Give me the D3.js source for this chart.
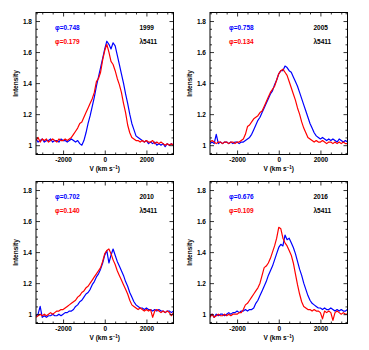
<!DOCTYPE html>
<html><head><meta charset="utf-8">
<script src="https://cdn.jsdelivr.net/npm/d3@7"></script>
<style>
html,body{margin:0;padding:0;background:#fff;}
svg text{font-family:"Liberation Sans",Arial,sans-serif;}
</style></head>
<body>
<svg id="c" width="369" height="350"></svg>
<script>
const velocity = [-3300,-3200,-3100,-3000,-2900,-2800,-2700,-2600,-2500,-2400,
-2300,-2200,-2100,-2000,-1900,-1800,-1700,-1600,-1500,-1400,
-1300,-1200,-1100,-1000,-900,-800,-700,-600,-500,-400,
-300,-200,-100,0,100,200,300,400,500,600,
700,800,900,1000,1100,1200,1300,1400,1500,1600,
1700,1800,1900,2000,2100,2200,2300,2400,2500,2600,
2700,2800,2900,3000,3100,3200,3300];

const red1999 = [1.03,1.05,1.02,1.04,1.03,1.04,1.02,1.03,1.04,1.03,
1.02,1.04,1.03,1.03,1.04,1.03,1.04,1.05,1.07,1.09,
1.11,1.14,1.15,1.18,1.21,1.24,1.27,1.30,1.34,1.41,
1.43,1.47,1.55,1.61,1.65,1.60,1.54,1.52,1.48,1.43,
1.39,1.34,1.27,1.21,1.13,1.08,1.05,1.04,1.03,1.03,
1.02,1.03,1.02,1.03,1.02,1.02,1.03,1.01,1.02,1.01,
1.02,1.01,1.00,1.01,1.00,1.01,1.00];
const blue1999 = [1.04,1.02,1.03,1.04,1.02,1.03,1.03,1.04,1.02,1.03,
1.03,1.02,1.04,1.03,1.03,1.02,1.03,1.04,1.03,1.02,
1.03,1.01,1.00,1.03,1.08,1.14,1.19,1.25,1.31,1.38,
1.44,1.50,1.56,1.62,1.67,1.65,1.62,1.66,1.64,1.58,
1.52,1.46,1.40,1.33,1.27,1.20,1.14,1.10,1.06,1.05,
1.04,1.03,1.02,1.03,1.01,1.02,1.01,1.02,1.00,1.01,
1.00,1.01,0.99,1.01,1.00,1.01,1.00];

const red2005 = [1.02,1.03,1.02,1.01,1.02,1.02,1.01,1.02,1.02,1.01,
1.02,1.02,1.01,1.02,1.02,1.03,1.04,1.07,1.12,1.13,
1.15,1.17,1.18,1.19,1.21,1.22,1.25,1.28,1.31,1.34,
1.36,1.38,1.42,1.46,1.48,1.49,1.47,1.45,1.41,1.37,
1.33,1.29,1.24,1.20,1.15,1.11,1.08,1.05,1.04,1.03,
1.02,1.03,1.02,1.02,1.03,1.02,1.01,1.02,1.02,1.01,
1.02,1.01,1.02,1.01,1.02,1.01,1.01];
const blue2005 = [1.01,1.02,1.01,1.07,1.01,1.02,1.01,1.02,1.02,1.01,
1.02,1.01,1.02,1.02,1.01,1.02,1.02,1.03,1.04,1.05,
1.07,1.10,1.13,1.16,1.18,1.21,1.24,1.27,1.30,1.33,
1.35,1.39,1.42,1.46,1.48,1.48,1.51,1.50,1.48,1.47,
1.44,1.41,1.38,1.34,1.30,1.26,1.22,1.18,1.14,1.11,
1.08,1.06,1.05,1.04,1.05,1.04,1.03,1.04,1.03,1.04,
1.03,1.02,1.04,1.03,1.02,1.03,1.02];

const red2010 = [0.98,0.99,1.00,0.99,1.00,0.99,1.00,1.01,1.00,1.01,
1.02,1.02,1.03,1.03,1.04,1.05,1.06,1.07,1.08,1.09,
1.11,1.12,1.14,1.15,1.17,1.18,1.20,1.22,1.24,1.26,
1.28,1.30,1.34,1.39,1.41,1.42,1.39,1.35,1.32,1.28,
1.25,1.22,1.19,1.16,1.13,1.09,1.06,1.05,1.04,1.03,
1.04,1.03,1.02,1.03,1.02,1.03,0.98,1.02,1.03,1.02,
1.01,1.02,1.01,1.02,1.01,0.99,1.01];
const blue2010 = [0.99,1.00,1.05,0.98,0.99,0.98,0.99,0.99,1.00,0.99,
0.99,1.00,0.99,1.00,1.01,1.01,1.02,1.02,1.03,1.05,
1.06,1.08,1.09,1.11,1.13,1.14,1.16,1.19,1.21,1.24,
1.26,1.29,1.33,1.38,1.41,1.33,1.38,1.42,1.38,1.34,
1.31,1.28,1.25,1.21,1.18,1.14,1.11,1.08,1.06,1.05,
1.04,1.04,1.03,1.04,1.03,1.03,1.02,1.03,1.02,1.03,
1.02,1.02,1.01,1.02,1.02,1.01,1.02];

const red2016 = [0.98,1.00,0.98,0.99,1.00,0.99,0.99,1.00,0.99,1.00,
0.99,1.00,1.00,1.00,1.01,1.01,1.03,1.06,1.07,1.09,
1.11,1.13,1.15,1.17,1.20,1.25,1.30,1.31,1.33,1.36,
1.40,1.44,1.49,1.56,1.55,1.49,1.46,1.44,1.41,1.38,
1.33,1.26,1.19,1.13,1.08,1.05,1.04,1.03,1.03,1.02,
1.03,1.02,1.02,1.01,0.97,1.02,1.01,1.02,1.01,0.96,
1.01,1.02,1.01,1.00,1.01,1.00,1.00];
const blue2016 = [0.99,1.00,0.98,1.00,0.99,1.00,1.00,0.99,1.00,1.01,
1.00,1.01,1.01,1.02,1.01,1.02,1.02,1.03,1.02,1.03,
1.03,1.04,1.07,1.09,1.12,1.15,1.18,1.21,1.25,1.28,
1.31,1.35,1.39,1.43,1.45,1.44,1.51,1.48,1.49,1.46,
1.43,1.39,1.34,1.29,1.25,1.20,1.16,1.12,1.09,1.07,
1.06,1.05,1.04,1.04,1.03,1.04,1.03,1.03,1.04,1.03,
1.02,1.03,1.02,1.03,1.02,1.02,1.03];

const years = ["1999","2005","2010","2016"];
const phiBlue = ["φ=0.748","φ=0.758","φ=0.702","φ=0.676"];
const phiRed = ["φ=0.179","φ=0.134","φ=0.140","φ=0.109"];
const lineLabel = "λ5411";
const xTicks = [-2000,0,2000];
const yTicks = [1,1.2,1.4,1.6,1.8];
const yTickLabels = ["1","1.2","1.4","1.6","1.8"];

const blueSeries = [blue1999,blue2005,blue2010,blue2016];
const redSeries = [red1999,red2005,red2010,red2016];

const svg = d3.select("#c");
const lefts = [36,210], tops = [12.5,181.5];
const W = 137.5, H = 142;
const BLUE = "#0000ff", RED = "#ff0000";
const FS = 6.5;

for (let p = 0; p < 4; p++) {
  const x0 = lefts[p % 2], y0 = tops[Math.floor(p / 2)];
  const g = svg.append("g").attr("transform", `translate(${x0},${y0})`);
  const x = d3.scaleLinear().domain([-3300,3300]).range([0,W]);
  const y = d3.scaleLinear().domain([0.94,1.855]).range([H,0]);

  g.append("defs").append("clipPath").attr("id","clip"+p)
    .append("rect").attr("width",W).attr("height",H);

  const line = d3.line().x((d,i)=>x(velocity[i])).y(d=>y(d));
  const lg = g.append("g").attr("clip-path",`url(#clip${p})`);
  lg.append("path").datum(blueSeries[p]).attr("d",line)
    .attr("fill","none").attr("stroke",BLUE).attr("stroke-width",1.2).attr("stroke-linejoin","round");
  lg.append("path").datum(redSeries[p]).attr("d",line)
    .attr("fill","none").attr("stroke",RED).attr("stroke-width",1.2).attr("stroke-linejoin","round");

  const xMinor = d3.range(-3000,3001,500).filter(v=>!xTicks.includes(v));
  const yMinor = d3.range(0.95,1.851,0.05).filter(v=>!yTicks.some(t=>Math.abs(t-v)<1e-6));

  const axB = d3.axisBottom(x).tickValues(xTicks).tickSize(-4).tickPadding(3).tickFormat(d=>d);
  const axT = d3.axisTop(x).tickValues(xTicks).tickSize(-4).tickFormat("");
  const axL = d3.axisLeft(y).tickValues(yTicks).tickSize(-4).tickPadding(4).tickFormat((d,i)=>yTickLabels[i]);
  const axR = d3.axisRight(y).tickValues(yTicks).tickSize(-4).tickFormat("");
  const axBm = d3.axisBottom(x).tickValues(xMinor).tickSize(-2).tickFormat("");
  const axTm = d3.axisTop(x).tickValues(xMinor).tickSize(-2).tickFormat("");
  const axLm = d3.axisLeft(y).tickValues(yMinor).tickSize(-2).tickFormat("");
  const axRm = d3.axisRight(y).tickValues(yMinor).tickSize(-2).tickFormat("");

  const add = (ax, tr) => {
    const a = g.append("g").attr("transform", tr).call(ax);
    a.select(".domain").remove();
    a.selectAll("line").attr("stroke","#000").attr("stroke-width",0.8);
    a.selectAll("text").attr("font-size",FS).attr("fill","#000").attr("font-weight","bold");
    return a;
  };
  add(axB, `translate(0,${H})`);
  add(axT, "translate(0,0)");
  add(axL, "translate(0,0)");
  add(axR, `translate(${W},0)`);
  add(axBm, `translate(0,${H})`);
  add(axTm, "translate(0,0)");
  add(axLm, "translate(0,0)");
  add(axRm, `translate(${W},0)`);

  g.append("rect").attr("width",W).attr("height",H)
    .attr("fill","none").attr("stroke","#000").attr("stroke-width",1);

  const t = (txt, xx, yy, col) => g.append("text").attr("x",xx).attr("y",yy)
    .attr("font-size",FS).attr("font-weight","bold").attr("fill",col).text(txt);
  t(phiBlue[p], 19, y(1.76)+2.5, BLUE);
  t(phiRed[p], 19, y(1.67)+2.5, RED);
  t(years[p], 103.5, y(1.76)+2.5, "#000");
  t(lineLabel, 103.5, y(1.67)+2.5, "#000");

  const xl = g.append("text").attr("x",W/2).attr("y",H+16.5).attr("text-anchor","middle")
    .attr("font-size",FS).attr("font-weight","bold").attr("fill","#000");
  xl.append("tspan").text("V (km s");
  xl.append("tspan").attr("dy",-2.5).attr("font-size",4.5).text("−1");
  xl.append("tspan").attr("dy",2.5).text(")");

  g.append("text").attr("transform",`translate(-18,${H/2}) rotate(-90)`)
    .attr("text-anchor","middle").attr("font-size",FS).attr("font-weight","bold")
    .attr("fill","#000").text("Intensity");
}
</script>
</body></html>
